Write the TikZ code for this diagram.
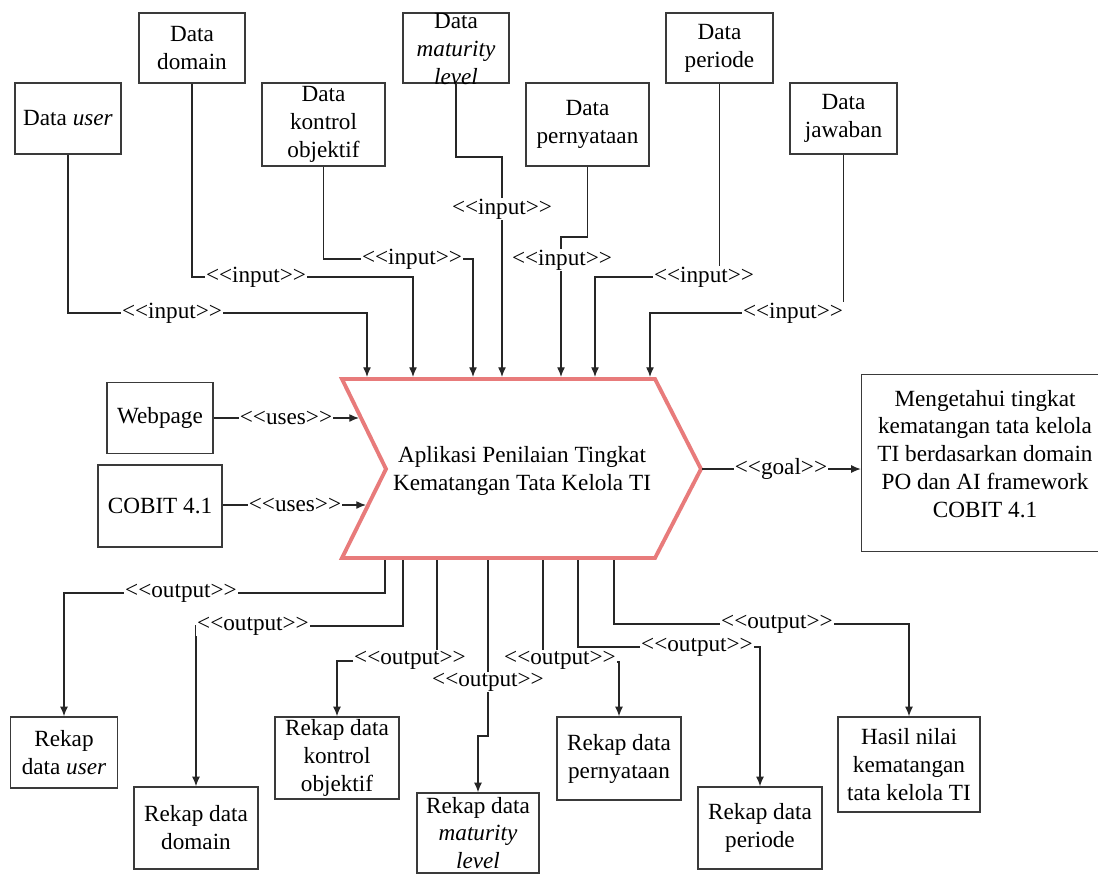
\documentclass[tikz,border=0pt]{standalone}
\usepackage{fontspec}
\setmainfont{Liberation Serif}
\usetikzlibrary{arrows.meta}
\definecolor{boxgray}{HTML}{3A3A3A}
\definecolor{linegray}{HTML}{262626}
\definecolor{chevred}{HTML}{E87B7B}
% stereotype text built from separate angle brackets
\newcommand{\stereo}[1]{<{}<#1>{}>}
\begin{document}
\begin{tikzpicture}[x=0.02cm,y=-0.02cm,
  every node/.style={font=\fontsize{13.2}{15.9}\selectfont},
  box/.style={draw=boxgray,line width=0.8pt,inner sep=0pt,align=center,fill=white},
  txt/.style={align=center,inner sep=0pt},
  conn/.style={draw=linegray,line width=0.7pt},
  arr/.style={conn,-{Latex[length=5.5pt,width=4.5pt]}},
  lbl/.style={fill=white,inner sep=0.6pt},
  chev/.style={draw=chevred,line width=2.2pt,fill=white,line join=miter}]

\useasboundingbox[fill=white] (0,0) rectangle (1098,873);

% central process shape
\draw[chev] (342,379) -- (655,379) -- (701,469) -- (655,558) -- (342,558) -- (386,469) -- cycle;
\node[txt] (app) at (522,471) {Aplikasi Penilaian Tingkat\\Kematangan Tata Kelola TI};

% attachment points on the process shape
\coordinate (i1) at (367,377);
\coordinate (i2) at (413,377);
\coordinate (i3) at (473,377);
\coordinate (i4) at (502,377);
\coordinate (i5) at (561,377);
\coordinate (i6) at (595,377);
\coordinate (i7) at (650,377);
\coordinate (u1) at (359,418);
\coordinate (u2) at (366,505);
\coordinate (g0) at (702,469);
\coordinate (o1) at (385,560);
\coordinate (o2) at (403,560);
\coordinate (o3) at (437,560);
\coordinate (o4) at (488,560);
\coordinate (o5) at (543,560);
\coordinate (o6) at (578,560);
\coordinate (o7) at (614,560);

% input data
\node[box,minimum width=2.12cm,minimum height=1.42cm] (duser) at (68,118.5) {Data \textit{user}};
\node[box,minimum width=2.12cm,minimum height=1.40cm] (ddomain) at (192,48) {Data\\domain};
\node[box,minimum width=2.46cm,minimum height=1.66cm] (dkontrol) at (323.5,124.5) {Data\\kontrol\\objektif};
\node[box,minimum width=2.12cm,minimum height=1.40cm] (dmaturity) at (456,48) {};
\node[txt] (dmaturity-t) at (456,49) {Data\\\textit{maturity}\\\textit{level}};
\node[box,minimum width=2.46cm,minimum height=1.66cm] (dpernyataan) at (587.5,124.5) {Data\\pernyataan};
\node[box,minimum width=2.14cm,minimum height=1.40cm] (dperiode) at (719.5,48) {Data\\periode};
\node[box,minimum width=2.14cm,minimum height=1.42cm] (djawaban) at (843.5,118.5) {Data\\jawaban};

% resources used
\node[box,minimum width=2.12cm,minimum height=1.42cm] (webpage) at (160,418) {Webpage};
\node[box,minimum width=2.48cm,minimum height=1.64cm] (cobit) at (160,506) {COBIT 4.1};

% goal
\node[box,minimum width=4.74cm,minimum height=3.54cm] (goal) at (980,463) {};
\node[txt] (goal-t) at (985,454) {Mengetahui tingkat\\kematangan tata kelola\\TI berdasarkan domain\\PO dan AI framework\\COBIT 4.1};

% outputs
\node[box,minimum width=2.14cm,minimum height=1.42cm] (ruser) at (64,752.5) {Rekap\\data \textit{user}};
\node[box,minimum width=2.48cm,minimum height=1.64cm] (rdomain) at (196,828) {Rekap data\\domain};
\node[box,minimum width=2.48cm,minimum height=1.64cm] (rkontrol) at (337,758) {Rekap data\\kontrol\\objektif};
\node[box,minimum width=2.44cm,minimum height=1.60cm] (rmaturity) at (478,833) {};
\node[txt] (rmaturity-t) at (478,833) {Rekap data\\\textit{maturity}\\\textit{level}};
\node[box,minimum width=2.48cm,minimum height=1.66cm] (rpernyataan) at (619,758.5) {Rekap data\\pernyataan};
\node[box,minimum width=2.48cm,minimum height=1.64cm] (rperiode) at (760,828) {Rekap data\\periode};
\node[box,minimum width=2.84cm,minimum height=1.90cm] (hasil) at (909,764.5) {Hasil nilai\\kematangan\\tata kelola TI};

% input connectors
\draw[arr] (duser.south) |- (i1 |- 0,313) -- (i1);
\draw[arr] (ddomain.south) |- (i2 |- 0,277) -- (i2);
\draw[arr] (dkontrol.south) |- (i3 |- 0,259) -- (i3);
\draw[arr] (dmaturity.south) |- (i4 |- 0,157) -- (i4);
\draw[arr] (dpernyataan.south) |- (i5 |- 0,237) -- (i5);
\draw[arr] (dperiode.south) |- (i6 |- 0,277) -- (i6);
\draw[arr] (djawaban.south) |- (i7 |- 0,313) -- (i7);

% uses and goal connectors
\draw[arr] (webpage.east |- u1) -- (u1);
\draw[arr] (cobit.east |- u2) -- (u2);
\draw[arr] (g0) -- (g0 -| goal.west);

% output connectors
\draw[arr] (o1) |- (ruser.north |- 0,593) -- (ruser.north);
\draw[arr] (o2) |- (rdomain.north |- 0,626) -- (rdomain.north);
\draw[arr] (o3) |- (rkontrol.north |- 0,661) -- (rkontrol.north);
\draw[arr] (o4) -- (o4 |- 0,736) -| (rmaturity.north);
\draw[arr] (o5) |- (rpernyataan.north |- 0,662) -- (rpernyataan.north);
\draw[arr] (o6) |- (rperiode.north |- 0,647) -- (rperiode.north);
\draw[arr] (o7) |- (hasil.north |- 0,624) -- (hasil.north);

% stereotype labels
\node[lbl] (l-in1) at (172,313) {\stereo{input}};
\node[lbl] (l-in2) at (256,277) {\stereo{input}};
\node[lbl] (l-in3) at (412,259) {\stereo{input}};
\node[lbl] (l-in4) at (502,209) {\stereo{input}};
\node[lbl] (l-in5) at (562,260) {\stereo{input}};
\node[lbl] (l-in6) at (704,277) {\stereo{input}};
\node[lbl] (l-in7) at (793,313) {\stereo{input}};
\node[lbl] (l-us1) at (286,418) {\stereo{uses}};
\node[lbl] (l-us2) at (295,505) {\stereo{uses}};
\node[lbl] (l-goal) at (781,469) {\stereo{goal}};
\node[lbl] (l-out1) at (181,593) {\stereo{output}};
\node[lbl] (l-out2) at (253,626) {\stereo{output}};
\node[lbl] (l-out3) at (410,660) {\stereo{output}};
\node[lbl] (l-out4) at (488,682) {\stereo{output}};
\node[lbl] (l-out5) at (560,660) {\stereo{output}};
\node[lbl] (l-out6) at (697,647) {\stereo{output}};
\node[lbl] (l-out7) at (777,624) {\stereo{output}};
\end{tikzpicture}
\end{document}
